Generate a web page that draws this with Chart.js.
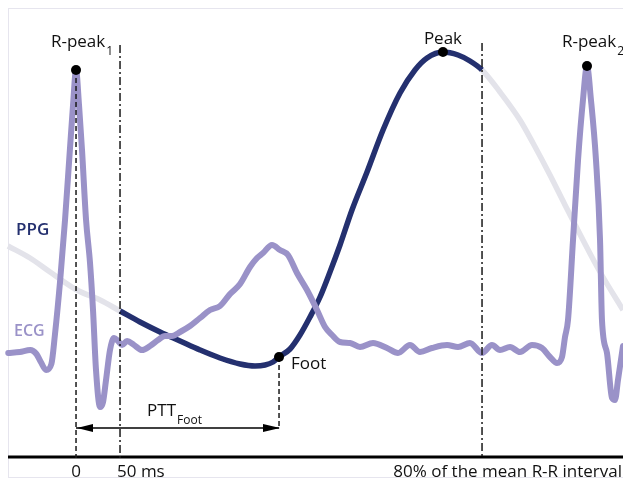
<!DOCTYPE html>
<html>
<head>
<meta charset="utf-8">
<script src="https://cdn.jsdelivr.net/npm/chart.js@4.4.1/dist/chart.umd.min.js"></script>
<style>
  html, body { margin: 0; padding: 0; background: #fff; }
  #wrap { width: 623px; height: 479px; }
</style>
</head>
<body>
<div id="wrap"><canvas id="pttChart"></canvas></div>
<script>
// time in ms after R-peak 1, amplitude in arbitrary units
const ecgTime = [-77, -64, -52, -45, -40, -34, -28, -24, -18, -12.5, -7, -3.4, 0, 3.4, 6.8, 11.4, 15.9, 19.3, 22.7, 27.3,
  30.7, 34.1, 38.6, 43.2, 47.7, 52.3, 58, 65.9, 75, 84.1, 93.2, 101.1, 109.1, 118.2, 129.5, 140.9, 152.3, 163.6, 175, 186.4,
  197.7, 205.7, 212.5, 222.7, 231.8, 240.9, 251.1, 262.5, 273.9, 283, 290.9, 300, 311.4, 322.7, 337.5, 353.4, 365.9, 379.5,
  390.9, 404.5, 421.6, 434.1, 447.7, 461.4, 472.7, 481.8, 493.2, 504.5, 518.2, 529.5, 538.6, 546.6, 552.3, 555.7, 559.1,
  564.8, 570.5, 576.1, 580.7, 585.2, 590.9, 595.5, 597.7, 603.4, 609.1, 612.5, 615.9, 621.6];
const ecgValue = [105, 106, 108, 104, 96, 88, 94, 123, 178, 238, 308, 353, 388, 353, 308, 238, 195, 148, 88, 51,
  56, 78, 108, 120, 117, 113, 117, 113, 108, 112, 118, 122, 122, 126, 132, 140, 148, 152, 164, 174,
  191, 200, 205, 213, 208, 203, 185, 168, 148, 131, 123, 116, 115, 111, 115, 110, 105, 113,
  106, 110, 113, 111, 115, 105, 113, 108, 111, 106, 113, 110, 101, 95, 101, 121, 138,
  218, 298, 358, 392, 358, 298, 218, 138, 105, 60, 58, 78, 112];

const ppgTime = [-77.3, -52.3, -29.5, 1.1, 27.3, 50, 72.7, 95.5, 118.2, 140.9, 163.6, 186.4, 203.4, 214.8, 223.9, 230.7,
  243.2, 254.5, 265.9, 277.3, 288.6, 300, 313.6, 330.7, 348.9, 368.2, 385.2, 398.9, 417, 434.1, 447.7, 461.4,
  481.8, 504.5, 519.3, 538.6, 555.7, 576.1, 595.5, 621.6];
const ppgValue = [212, 200, 186, 168, 158, 147, 136, 126, 117, 108, 100, 94, 92, 93, 96, 101,
  109, 123, 141, 161, 186, 213, 248, 286, 328, 365, 388, 400, 406, 403, 397, 388,
  366, 338, 315, 283, 253, 218, 186, 148];

// marked points: R-peak 1, foot, peak, R-peak 2
const markerTime = [0, 230.7, 417, 580.7];
const markerValue = [388, 101, 406, 392];

// PPG window: 50 ms after R-peak 1 up to 80% of the mean R-R interval
const windowStart = 50;
const windowEnd = 461.4;

// vertical guides
const guideTime = [0, 50, 230.7, 461.4];
const guideTop = [380, 413, 101, 415];
const guideBottom = [0, 0, 30, 0];

// PTT arrow
const pttFrom = 0;
const pttTo = 230.7;
const pttLevel = 30;

const tickValues = [0, 50, 461.4];
const tickLabels = ['0', '50 ms', '80% of the mean R-R interval'];

const NAVY = '#24306f';
const LAVENDER = '#9a92c8';
const GRAY = '#e3e3ea';

const toXY = (xs, ys) => xs.map((t, i) => ({ x: t, y: ys[i] }));

const datasets = [];

datasets.push({
  label: 'markers',
  data: toXY(markerTime, markerValue),
  showLine: false,
  pointRadius: 5,
  pointBackgroundColor: '#000',
  pointBorderWidth: 0,
  order: 0
});

guideTime.forEach((t, i) => {
  const dashDot = (t === windowStart || t === windowEnd);
  datasets.push({
    label: 'guide' + i,
    data: [{ x: t, y: guideTop[i] }, { x: t, y: guideBottom[i] }],
    showLine: true,
    borderColor: '#1a1a1a',
    borderWidth: 1.5,
    borderDash: dashDot ? [8, 3, 2, 3] : [5, 3],
    pointRadius: 0,
    order: 1
  });
});

datasets.push({
  label: 'PTT',
  data: [{ x: pttFrom, y: pttLevel }, { x: pttTo, y: pttLevel }],
  showLine: true,
  borderColor: '#000',
  borderWidth: 1.5,
  pointRadius: 0,
  order: 1
});

datasets.push({
  label: 'baseline',
  data: [{ x: -77.3, y: 1 }, { x: 621.6, y: 1 }],
  showLine: true,
  borderColor: '#000',
  borderWidth: 3,
  pointRadius: 0,
  order: 1
});

datasets.push({
  label: 'ECG',
  data: toXY(ecgTime, ecgValue),
  showLine: true,
  borderColor: LAVENDER,
  borderWidth: 6,
  cubicInterpolationMode: 'monotone',
  borderJoinStyle: 'round',
  borderCapStyle: 'round',
  pointRadius: 0,
  order: 2
});

datasets.push({
  label: 'PPG',
  data: toXY(ppgTime, ppgValue),
  showLine: true,
  borderColor: GRAY,
  borderWidth: 5.5,
  cubicInterpolationMode: 'monotone',
  borderJoinStyle: 'round',
  pointRadius: 0,
  segment: {
    borderColor: c => (c.p0.parsed.x >= windowStart && c.p1.parsed.x <= windowEnd) ? NAVY : GRAY
  },
  order: 3
});

// frame, texts and arrow heads
const annotate = {
  id: 'annotate',
  beforeDraw(chart) {
    const ctx = chart.ctx;
    ctx.save();
    ctx.strokeStyle = '#e6e5ee';
    ctx.lineWidth = 1;
    ctx.strokeRect(8.5, 8.5, chart.width, chart.height - 10);
    ctx.restore();
  },
  afterDatasetsDraw(chart) {
    const { ctx, scales: { x, y } } = chart;
    const FONT = '"Open Sans", "Noto Sans", sans-serif';

    function label(text, sub, px, py, align, size, color, weight) {
      ctx.font = (weight || 'normal') + ' ' + size + 'px ' + FONT;
      const w = ctx.measureText(text).width;
      ctx.font = (weight || 'normal') + ' ' + Math.round(size * 0.68) + 'px ' + FONT;
      const sw = sub ? ctx.measureText(sub).width + 1 : 0;
      let left = px;
      if (align === 'center') left = px - (w + sw) / 2;
      ctx.fillStyle = color || '#111';
      ctx.textAlign = 'left';
      ctx.textBaseline = 'alphabetic';
      ctx.font = (weight || 'normal') + ' ' + size + 'px ' + FONT;
      ctx.fillText(text, left, py);
      if (sub) {
        ctx.font = (weight || 'normal') + ' ' + Math.round(size * 0.68) + 'px ' + FONT;
        ctx.fillText(sub, left + w + 1, py + 8);
      }
    }

    ctx.save();
    const mx = markerTime.map(t => x.getPixelForValue(t));
    const my = markerValue.map(v => y.getPixelForValue(v));

    label('R-peak', '1', mx[0] + 6, my[0] - 23, 'center', 17);
    label('Foot', null, mx[1] + 12, my[1] + 12, 'left', 17);
    label('Peak', null, mx[2], my[2] - 8, 'center', 17);
    label('R-peak', '2', mx[3] + 6, my[3] - 19, 'center', 17);

    label('PPG', null, x.left + 16, 235, 'left', 17, NAVY, '600');
    label('ECG', null, x.left + 14, 336, 'left', 16, LAVENDER, '600');

    // PTT arrow heads
    const ay = y.getPixelForValue(pttLevel);
    const a0 = x.getPixelForValue(pttFrom) + 1;
    const a1 = x.getPixelForValue(pttTo) + 1;
    ctx.fillStyle = '#000';
    ctx.beginPath();
    ctx.moveTo(a0, ay); ctx.lineTo(a0 + 16, ay - 4); ctx.lineTo(a0 + 16, ay + 4); ctx.closePath();
    ctx.fill();
    ctx.beginPath();
    ctx.moveTo(a1, ay); ctx.lineTo(a1 - 17, ay - 4); ctx.lineTo(a1 - 17, ay + 4); ctx.closePath();
    ctx.fill();
    label('PTT', 'Foot', (a0 + a1) / 2 - 4, ay - 12, 'center', 17);

    // axis labels
    const ty = 477;
    ctx.font = '17px ' + FONT;
    ctx.fillStyle = '#111';
    ctx.textBaseline = 'alphabetic';
    ctx.textAlign = 'center';
    ctx.fillText(tickLabels[0], x.getPixelForValue(tickValues[0]), ty);
    ctx.textAlign = 'left';
    ctx.fillText(tickLabels[1], x.getPixelForValue(tickValues[1]) - 3, ty);
    ctx.textAlign = 'right';
    ctx.fillText(tickLabels[2], x.right - 1, ty, 230);
    ctx.restore();
  }
};

new Chart(document.getElementById('pttChart'), {
  type: 'scatter',
  data: { datasets: datasets },
  options: {
    responsive: true,
    maintainAspectRatio: false,
    animation: false,
    layout: { padding: 0, autoPadding: false },
    plugins: { legend: { display: false }, tooltip: { enabled: false } },
    elements: { line: { tension: 0 } },
    scales: {
      x: { type: 'linear', min: -86.4, max: 621.6, display: false },
      y: { type: 'linear', min: -21, max: 458, display: false }
    }
  },
  plugins: [annotate]
});
</script>
</body>
</html>
